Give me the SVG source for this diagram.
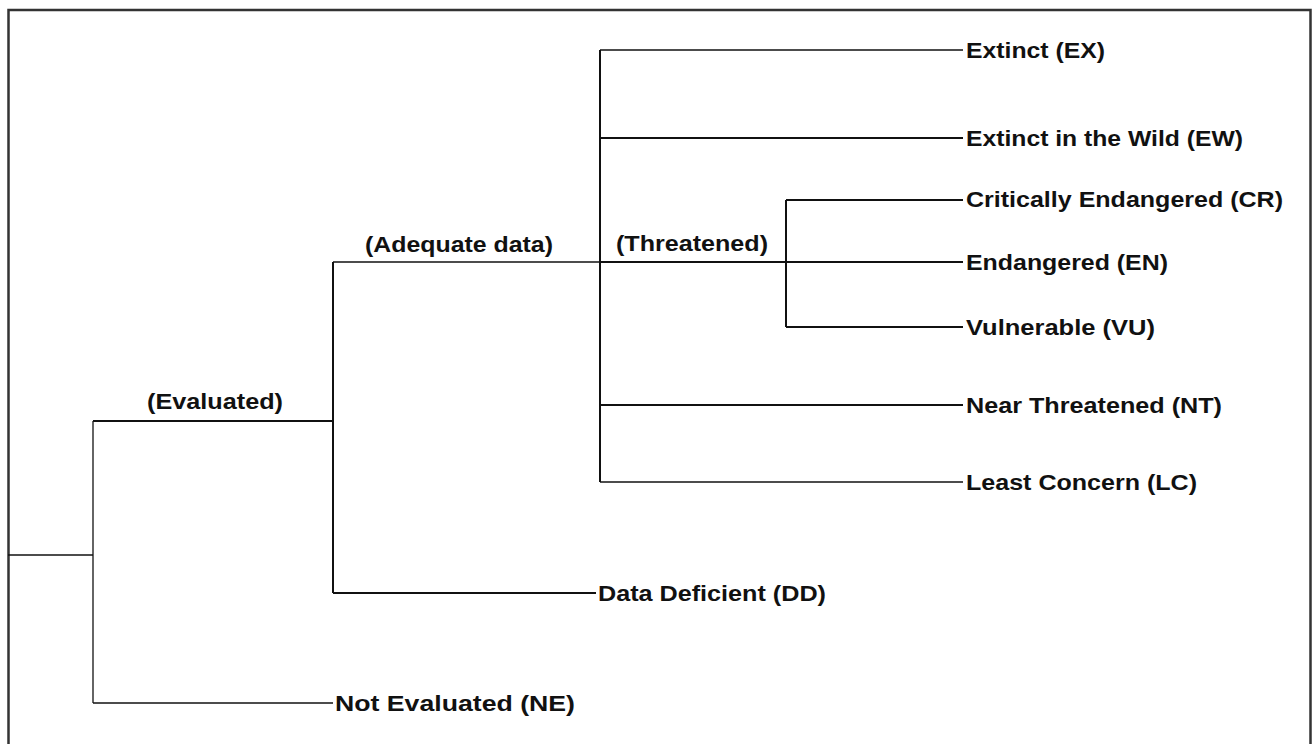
<svg xmlns="http://www.w3.org/2000/svg" width="1313" height="744" viewBox="0 0 1313 744">
<style>
.lbl{font-family:"Liberation Sans",Arial,sans-serif;font-weight:bold;font-size:22px;fill:#111}
.c{stroke:#111;stroke-width:2;fill:none}
.t{stroke:#111;stroke-width:1.3;fill:none}
</style>
<rect x="0" y="0" width="1313" height="744" fill="#fff"/>
<rect x="8.5" y="10" width="1302" height="745" fill="none" stroke="#333" stroke-width="2.5"/>
<g id="connectors">
<line class="t" x1="8" y1="555" x2="93" y2="555"/>
<line class="t" x1="93" y1="421" x2="93" y2="703"/>
<line class="c" x1="93" y1="421" x2="333" y2="421"/>
<line class="t" x1="93" y1="703" x2="333" y2="703"/>
<line class="c" x1="333" y1="262" x2="333" y2="593"/>
<line class="t" x1="333" y1="262" x2="600" y2="262"/>
<line class="c" x1="333" y1="593" x2="596" y2="593"/>
<line class="c" x1="600" y1="50" x2="600" y2="482"/>
<line class="t" x1="600" y1="50" x2="963" y2="50"/>
<line class="c" x1="600" y1="138" x2="963" y2="138"/>
<line class="c" x1="600" y1="262" x2="963" y2="262"/>
<line class="c" x1="786" y1="200" x2="786" y2="327"/>
<line class="c" x1="786" y1="200" x2="963" y2="200"/>
<line class="c" x1="786" y1="327" x2="963" y2="327"/>
<line class="c" x1="600" y1="405" x2="963" y2="405"/>
<line class="t" x1="600" y1="482" x2="963" y2="482"/>
</g>
<g id="evaluated"><text class="lbl" x="147" y="409" textLength="136" lengthAdjust="spacingAndGlyphs">(Evaluated)</text></g>
<g id="adequate"><text class="lbl" x="365" y="252" textLength="188" lengthAdjust="spacingAndGlyphs">(Adequate data)</text></g>
<g id="threatened"><text class="lbl" x="616" y="251" textLength="152" lengthAdjust="spacingAndGlyphs">(Threatened)</text></g>
<g id="ex"><text class="lbl" x="966" y="58" textLength="139" lengthAdjust="spacingAndGlyphs">Extinct (EX)</text></g>
<g id="ew"><text class="lbl" x="966" y="146" textLength="277" lengthAdjust="spacingAndGlyphs">Extinct in the Wild (EW)</text></g>
<g id="cr"><text class="lbl" x="966" y="207" textLength="317" lengthAdjust="spacingAndGlyphs">Critically Endangered (CR)</text></g>
<g id="en"><text class="lbl" x="966" y="270" textLength="202" lengthAdjust="spacingAndGlyphs">Endangered (EN)</text></g>
<g id="vu"><text class="lbl" x="966" y="335" textLength="189" lengthAdjust="spacingAndGlyphs">Vulnerable (VU)</text></g>
<g id="nt"><text class="lbl" x="966" y="413" textLength="256" lengthAdjust="spacingAndGlyphs">Near Threatened (NT)</text></g>
<g id="lc"><text class="lbl" x="966" y="490" textLength="231" lengthAdjust="spacingAndGlyphs">Least Concern (LC)</text></g>
<g id="dd"><text class="lbl" x="598" y="601" textLength="228" lengthAdjust="spacingAndGlyphs">Data Deficient (DD)</text></g>
<g id="ne"><text class="lbl" x="335" y="711" textLength="240" lengthAdjust="spacingAndGlyphs">Not Evaluated (NE)</text></g>
</svg>
